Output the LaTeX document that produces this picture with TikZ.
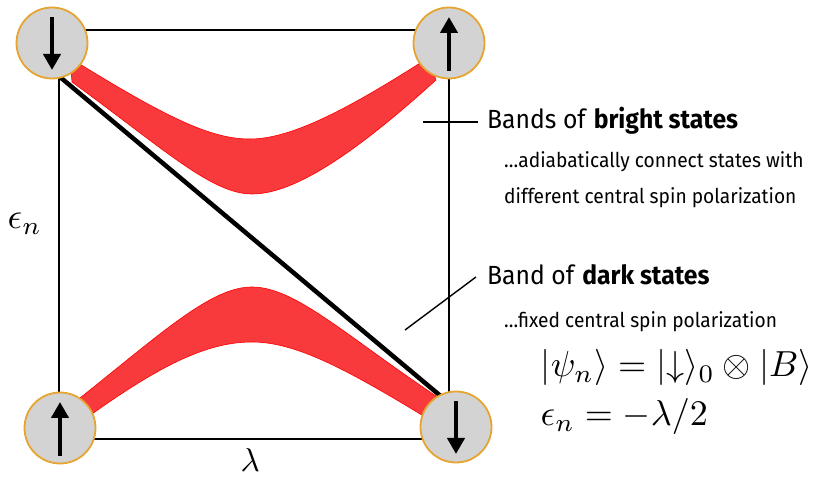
\documentclass[tikz,border=0pt]{standalone}
\usepackage{fontspec}
\setmainfont{Fira Sans}[FakeStretch=0.94]
\usetikzlibrary{arrows.meta,calc}
\definecolor{bandred}{RGB}{248,58,60}
\definecolor{ring}{RGB}{229,165,48}
\definecolor{spinfill}{RGB}{211,211,211}
\begin{document}
\begin{tikzpicture}[x=1pt,y=-1pt,
 spin/.style={circle,minimum size=71pt,inner sep=0pt,fill=spinfill,draw=ring,line width=1.8pt},
 spinarrow/.style={line width=4pt,-{Triangle[length=16pt,width=17pt]}},
 band/.style={fill=bandred,draw=red,line width=0.6pt},
 frame/.style={line width=1.6pt},
 diag/.style={line width=4.5pt},
 pointer/.style={line width=1.4pt},
 title/.style={anchor=base west,font=\fontsize{26.3}{30}\selectfont,inner sep=0pt},
 sub/.style={anchor=base west,font=\fontsize{20.4}{23}\selectfont,inner sep=0pt},
 eq/.style={anchor=base west,inner sep=0pt,transform shape}]
\useasboundingbox (0,0) rectangle (815,478);
% frame corners
\coordinate (A) at (59,30);
\coordinate (B) at (449,30);
\coordinate (C) at (449,439);
\coordinate (D) at (59,439);
\draw[frame] (A) -- (B) -- (C) -- (D) -- cycle;
% diagonal dark state line
\coordinate (d1) at (60,77);
\coordinate (d2) at (443,398);
\draw[diag] (d1) -- (d2);
% bright band (upper)
\path[band] (70,58) .. controls (170,120) and (212,139) .. (250,139)
  .. controls (292,139) and (350,108) .. (428,58)
  -- (436,80) .. controls (350,158) and (292,194) .. (252,194)
  .. controls (212,194) and (165,150) .. (72,82) -- cycle;
% bright band (lower)
\path[band] (80,398) .. controls (165,330) and (212,287) .. (252,287)
  .. controls (295,287) and (345,335) .. (436,396)
  -- (430,420) .. controls (345,368) and (295,342) .. (252,342)
  .. controls (210,342) and (165,362) .. (92,414) -- cycle;
% spins
\node[spin] (tl) at (52,43) {};
\node[spin] (tr) at (449,43) {};
\node[spin] (bl) at (60,428) {};
\node[spin] (br) at (456,427) {};
\draw[spinarrow] ($(tl)+(0,-26)$) -- ($(tl)+(0,27)$);
\draw[spinarrow] ($(tr)+(0,28)$) -- ($(tr)+(0,-26)$);
\draw[spinarrow] ($(bl)+(0,28)$) -- ($(bl)+(0,-26)$);
\draw[spinarrow] ($(br)+(0,-26)$) -- ($(br)+(0,27)$);
% labels on axes
\node[eq,scale=3.6] (eps) at (7,229) {$\epsilon_n$};
\node[eq,scale=3.3] (lam) at (240,472) {$\lambda$};
% pointers
\coordinate (p1) at (423,122);
\coordinate (p2) at (478,122);
\draw[pointer] (p1) -- (p2);
\coordinate (q1) at (405,330);
\coordinate (q2) at (476,277);
\draw[pointer] (q1) -- (q2);
% texts
\node[title] (t1) at (487,129) {Bands of \textbf{bright states}};
\node[sub] (s1) at (504,168) {…adiabatically connect states with};
\node[sub] (s2) at (504,204) {different central spin polarization};
\node[title] (t2) at (487,285) {Band of \textbf{dark states}};
\node[sub] (s3) at (504,328) {…fixed central spin polarization};
\node[eq,scale=3.62] (e1) at (540,377) {$|\psi_n\rangle = |{\downarrow}\rangle_0 \otimes |B\rangle$};
\node[eq,scale=3.6] (e2) at (540,426) {$\epsilon_n = -\lambda/2$};
\end{tikzpicture}
\end{document}
